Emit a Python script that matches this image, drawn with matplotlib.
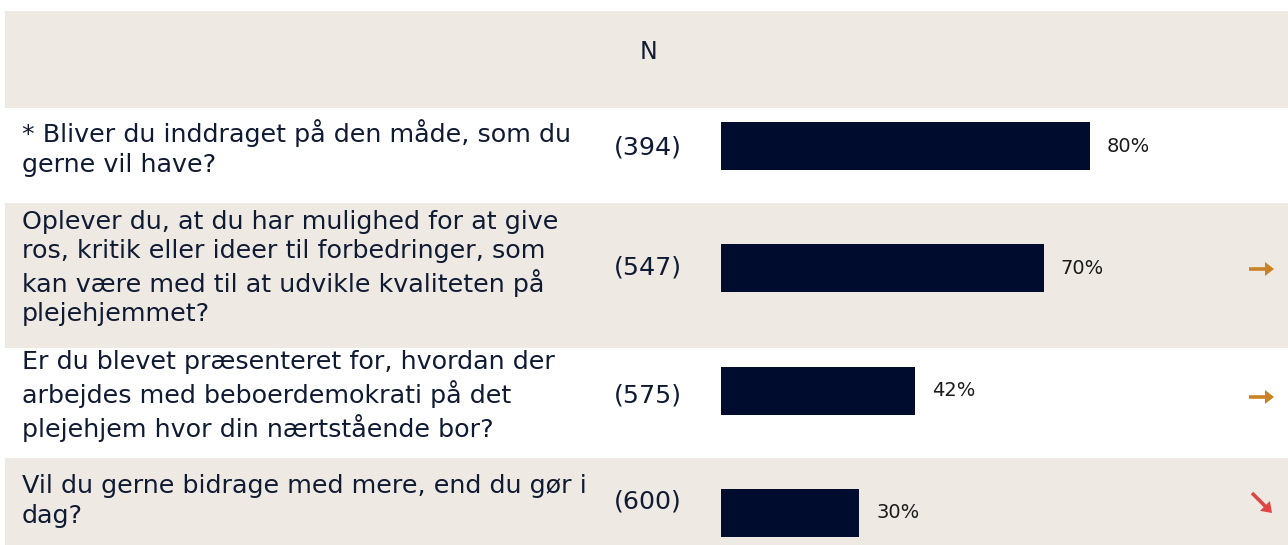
import matplotlib
matplotlib.use("Agg")
import matplotlib.pyplot as plt
from matplotlib.patches import Rectangle

# ---- data ----
questions = [
    "* Bliver du inddraget på den måde, som du\ngerne vil have?",
    "Oplever du, at du har mulighed for at give\nros, kritik eller ideer til forbedringer, som\nkan være med til at udvikle kvaliteten på\nplejehjemmet?",
    "Er du blevet præsenteret for, hvordan der\narbejdes med beboerdemokrati på det\nplejehjem hvor din nærtstående bor?",
    "Vil du gerne bidrage med mere, end du gør i\ndag?",
]
n_values = [394, 547, 575, 600]
percentages = [80, 70, 42, 30]
trends = ["", "flat", "flat", "down"]
header_label = "N"

# ---- style ----
BEIGE = "#eeeae3"
NAVY = "#000c2d"
TEXT = "#0f1a33"
ORANGE = "#c98225"
RED = "#e04545"
FONT = ["DejaVu Sans"]

W, H = 1288, 545
fig = plt.figure(figsize=(W / 100, H / 100), dpi=100)
fig.patch.set_facecolor("white")

# background axes in pixel coordinates
bg = fig.add_axes([0, 0, 1, 1])
bg.set_xlim(0, W)
bg.set_ylim(H, 0)
bg.axis("off")

row_bounds = [(108, 203), (203, 348), (348, 458), (458, 545)]
row_fill = ["white", BEIGE, "white", BEIGE]
text_centers = [148, 268, 396, 501]

bg.add_patch(Rectangle((5, 11), W - 5, 97, facecolor=BEIGE, edgecolor="none"))
for (y0, y1), c in zip(row_bounds, row_fill):
    bg.add_patch(Rectangle((5, y0), W - 5, y1 - y0, facecolor=c, edgecolor="none"))

bg.text(649, 52, header_label, ha="center", va="center", fontsize=17,
        color=TEXT, family=FONT)

for q, n, t, yc in zip(questions, n_values, trends, text_centers):
    bg.text(22, yc, q, ha="left", va="center", fontsize=18.3, color=TEXT,
            family=FONT, linespacing=1.28)
    bg.text(648, yc, f"({n})", ha="center", va="center", fontsize=18.3,
            color=TEXT, family=FONT)
    if t == "flat":
        bg.arrow(1249, yc + 1, 25, 0, width=3.6, head_width=14, head_length=9,
                 length_includes_head=True, color=ORANGE, lw=0)
    elif t == "down":
        bg.arrow(1252, yc - 8, 20, 20, width=3.6, head_width=14, head_length=10,
                 length_includes_head=True, color=RED, lw=0)

# bar axes: x 0-100% maps to pixels 721..1182
bar_left, bar_right = 721, 1182
bar_c0, bar_step = 146, 122.33
ytop = -bar_c0 / bar_step
ybot = (H - bar_c0) / bar_step
ax = fig.add_axes([bar_left / W, 0, (bar_right - bar_left) / W, 1])
ax.set_xlim(0, 100)
ax.set_ylim(ybot, ytop)
ax.axis("off")
ax.patch.set_alpha(0)

ypos = list(range(len(percentages)))
ax.barh(ypos, percentages, height=48 / bar_step, color=NAVY, edgecolor="none")
for y, p in zip(ypos, percentages):
    ax.annotate(f"{p}%", xy=(p, y), xytext=(17, 0), textcoords="offset pixels",
                ha="left", va="center", fontsize=14, color="#1a1a1a",
                family=FONT)

fig.savefig("out.png", dpi=100)
